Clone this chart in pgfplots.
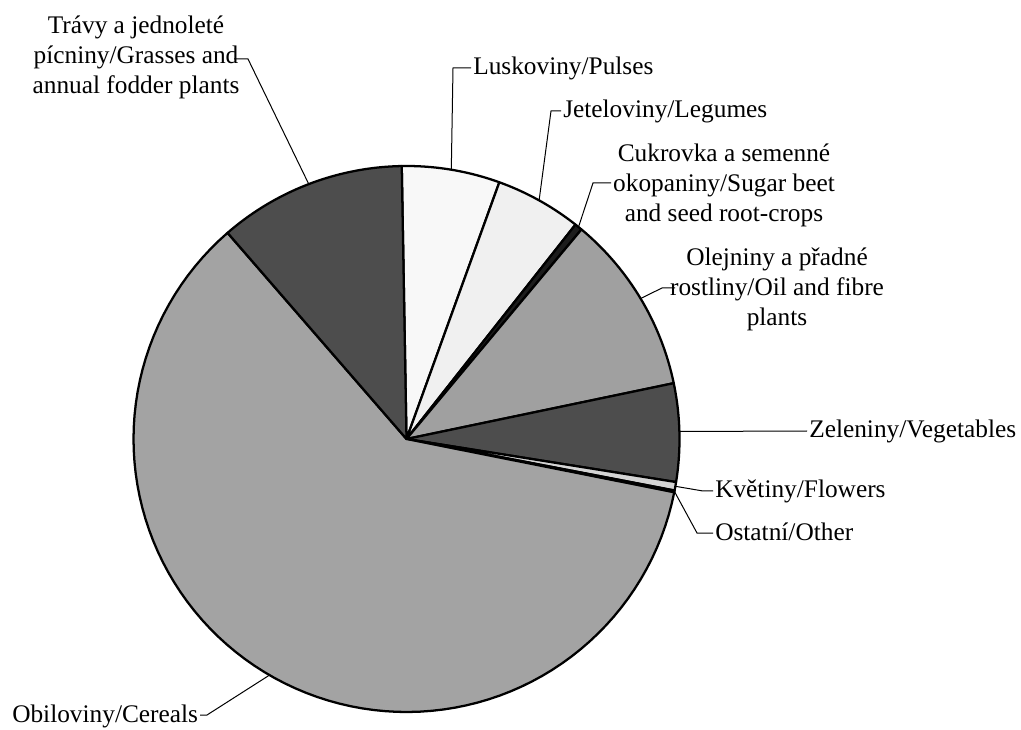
\documentclass[border=0pt]{standalone}
\usepackage{pgfplots}
\pgfplotsset{compat=1.18}
\usepackage{pgfplotstable}
\usepackage{fontspec}
\setmainfont{Liberation Serif}
\definecolor{cLus}{HTML}{F8F8F8}
\definecolor{cJet}{HTML}{F0F0F0}
\definecolor{cCuk}{HTML}{1C1C1C}
\definecolor{cOle}{HTML}{A0A0A0}
\definecolor{cZel}{HTML}{4D4D4D}
\definecolor{cKve}{HTML}{D4D4D4}
\definecolor{cOst}{HTML}{FFFFFF}
\definecolor{cObi}{HTML}{A3A3A3}
\definecolor{cTra}{HTML}{4D4D4D}
\pgfplotstableread[col sep=comma]{
name,value,shade
Luskoviny/Pulses,5.8,cLus
Jeteloviny/Legumes,5.1,cJet
Cukrovka a semenne okopaniny/Sugar beet and seed root-crops,0.45,cCuk
Olejniny a pradne rostliny/Oil and fibre plants,10.65,cOle
Zeleniny/Vegetables,5.8,cZel
Kvetiny/Flowers,0.5,cKve
Ostatni/Other,0.1,cOst
Obiloviny/Cereals,60.5,cObi
Travy a jednolete picniny/Grasses and annual fodder plants,11.1,cTra
}\piedata
\begin{document}
\begin{tikzpicture}
\begin{axis}[
  width=765.75pt, height=546.75pt, scale only axis,
  xmin=0, xmax=1021, ymin=-729, ymax=0,
  hide axis, clip=false,
]
\coordinate (BL) at (axis cs:0,-729);
\coordinate (TR) at (axis cs:1021,0);
\xdef\curang{91}
\pgfplotsforeachungrouped \i in {0,...,8}{%
  \pgfplotstablegetelem{\i}{value}\of\piedata \let\val\pgfplotsretval
  \pgfplotstablegetelem{\i}{shade}\of\piedata \let\col\pgfplotsretval
  \pgfmathsetmacro\nextang{\curang-3.6*\val}%
  \edef\temp{\noexpand\addplot[fill=\col, draw=black, line width=1.7pt, line join=round, domain=\nextang:\curang, samples=90, variable=\noexpand\t] ({406.5+273*cos(\noexpand\t)},{-439+273*sin(\noexpand\t)}) -- (axis cs:406.5,-439) -- cycle;}%
  \temp
  \xdef\curang{\nextang}%
}
\begin{scope}[every node/.style={font=\fontsize{19}{22.5}\selectfont, inner sep=0pt}]
% Luskoviny
\draw[line width=0.75pt] (axis cs:471,-68) -- (axis cs:453,-68) -- (axis cs:451.3,-169.7);
\node[anchor=base west] at (axis cs:473,-75) {Luskoviny/Pulses};
% Jeteloviny
\draw[line width=0.75pt] (axis cs:561,-111) -- (axis cs:551,-111) -- (axis cs:539.1,-200.4);
\node[anchor=base west] at (axis cs:563,-118) {Jeteloviny/Legumes};
% Cukrovka
\draw[line width=0.75pt] (axis cs:611,-183) -- (axis cs:593,-183) -- (axis cs:578.5,-227);
\node[align=center] at (axis cs:724,-185) {Cukrovka a semenné\\okopaniny/Sugar beet\\and seed root-crops};
% Olejniny
\draw[line width=0.75pt] (axis cs:675,-288) -- (axis cs:662,-288) -- (axis cs:640.6,-298.5);
\node[align=center] at (axis cs:777,-289) {Olejniny a přadné\\rostliny/Oil and fibre\\plants};
% Zeleniny
\draw[line width=0.75pt] (axis cs:807,-431) -- (axis cs:679.4,-431.5);
\node[anchor=base west] at (axis cs:809,-438) {Zeleniny/Vegetables};
% Kvetiny
\draw[line width=0.75pt] (axis cs:713,-491) -- (axis cs:703,-491) -- (axis cs:675.4,-486.3);
\node[anchor=base west] at (axis cs:715,-498) {Květiny/Flowers};
% Ostatni
\draw[line width=0.75pt] (axis cs:713,-533) -- (axis cs:697,-533) -- (axis cs:674.4,-491.4);
\node[anchor=base west] at (axis cs:715,-540) {Ostatní/Other};
% Obiloviny
\draw[line width=0.75pt] (axis cs:200,-715) -- (axis cs:207,-715) -- (axis cs:269.5,-675.1);
\node[anchor=base west] at (axis cs:12,-722) {Obiloviny/Cereals};
% Travy
\draw[line width=0.75pt] (axis cs:234,-59) -- (axis cs:248,-59) -- (axis cs:308.7,-184);
\node[align=center] at (axis cs:136,-57) {Trávy a jednoleté\\pícniny/Grasses and\\annual fodder plants};
\end{scope}
\end{axis}
\pgfresetboundingbox
\path[use as bounding box] (BL) rectangle (TR);
\end{tikzpicture}
\end{document}
